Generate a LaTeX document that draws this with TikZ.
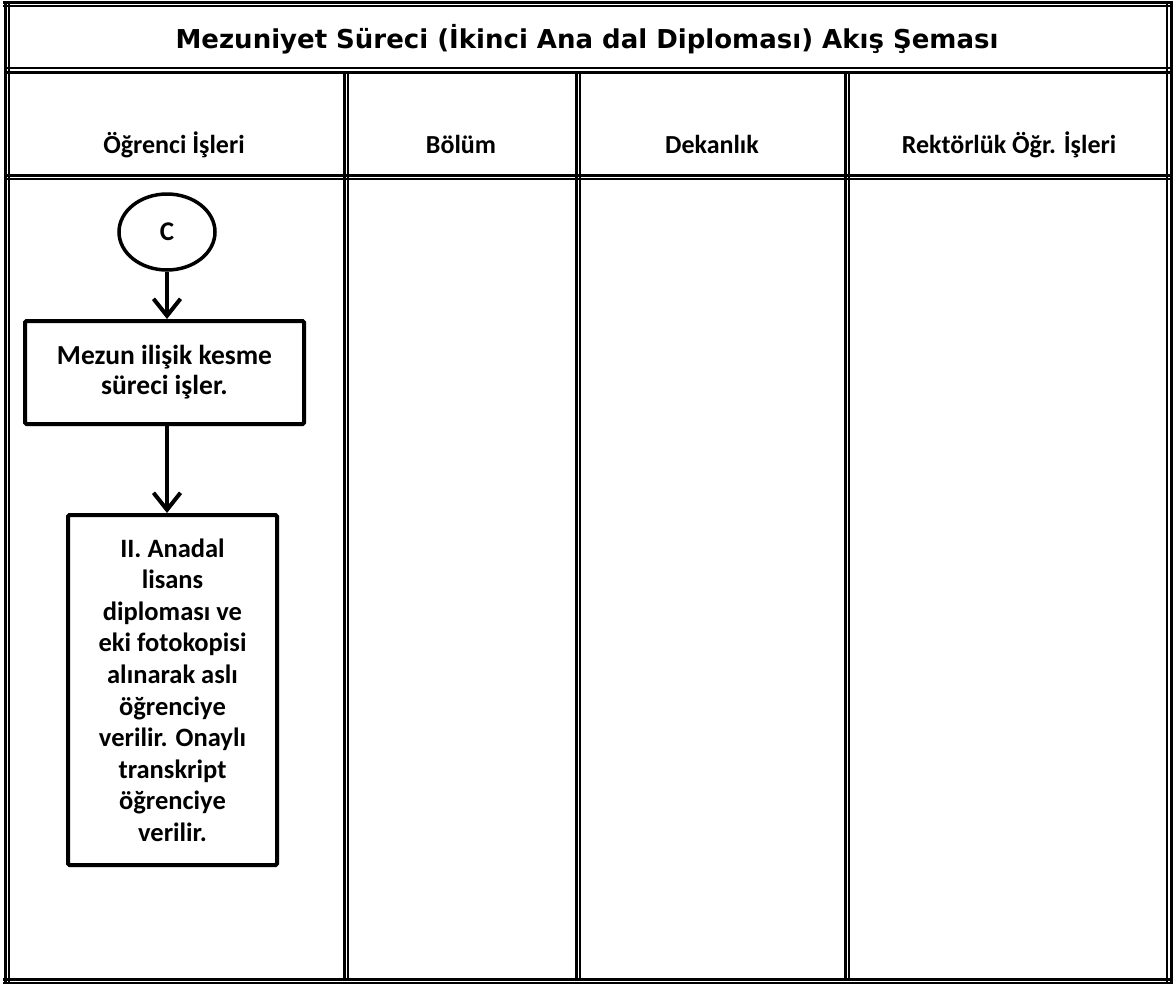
\documentclass[tikz,border=0pt]{standalone}
\usepackage{fontspec}
\setmainfont{Carlito}
\newfontfamily\titlefont{DejaVu Sans}
\usetikzlibrary{arrows.meta,shadows,shapes.geometric}
\begin{document}
\begin{tikzpicture}[x=1pt,y=-1pt,
  thk/.style={line width=3pt},
  thn/.style={line width=1.4pt},
  hdr/.style={anchor=base,font=\bfseries\fontsize{26}{30}\selectfont},
  procbox/.style={draw,line width=4pt,rounded corners=1.5pt,align=center,fill=white,
     drop shadow={shadow xshift=1.5pt,shadow yshift=-2pt,opacity=0.35}},
  termnode/.style={draw,ellipse,line width=3.5pt,minimum width=96pt,minimum height=76pt,
     font=\bfseries\fontsize{27}{30}\selectfont},
  flow/.style={line width=4pt,-{Straight Barb[length=17pt,width=27pt]}}]
\useasboundingbox (0,0) rectangle (1174,985);
% table frame
\draw[thk] (3,2) -- (1173,2);
\draw[thn] (3,6) -- (1173,6);
\draw[thn] (5,68) -- (1170,68);
\draw[thk] (5,72) -- (1170,72);
\draw[thk] (5,175) -- (1170,175);
\draw[thn] (5,179) -- (1170,179);
\draw[thk] (3,979) -- (1173,979);
\draw[thn] (3,983) -- (1173,983);
\draw[thk] (5,1) -- (5,984);
\draw[thn] (9,1) -- (9,984);
\draw[thn] (1167,1) -- (1167,984);
\draw[thk] (1171,1) -- (1171,984);
\draw[thk] (344,72) -- (344,979);
\draw[thn] (348,72) -- (348,979);
\draw[thk] (576,72) -- (576,979);
\draw[thn] (580,72) -- (580,979);
\draw[thk] (845,72) -- (845,979);
\draw[thn] (849,72) -- (849,979);
% title and headers
\node[anchor=base,font=\titlefont\bfseries\fontsize{26}{30}\selectfont] (title) at (587,48)
  {Mezuniyet Süreci (İkinci Ana dal Diploması) Akış Şeması};
\node[hdr] (h1) at (174,153) {Öğrenci İşleri};
\node[hdr] (h2) at (461,153) {Bölüm};
\node[hdr] (h3) at (712,153) {Dekanlık};
\node[hdr] (h4) at (1009,153) {Rektörlük Öğr. İşleri};
% flow
\node[termnode] (c) at (167,232) {C};
\node[procbox,minimum width=279pt,minimum height=103pt,
  font=\bfseries\fontsize{27.5}{30}\selectfont] (b1) at (164.5,372.5)
  {Mezun ilişik kesme\\süreci işler.};
\node[procbox,minimum width=209pt,minimum height=350pt,
  font=\bfseries\fontsize{26.5}{31.6}\selectfont] (b2) at (172.5,690)
  {II. Anadal\\lisans\\diploması ve\\eki fotokopisi\\alınarak aslı\\öğrenciye\\verilir. Onaylı\\transkript\\öğrenciye\\verilir.};
\draw[flow] (c.south) -- (c.south |- b1.north);
\draw[flow] (b1.south -| c.south) -- (c.south |- b2.north);
\end{tikzpicture}
\end{document}
